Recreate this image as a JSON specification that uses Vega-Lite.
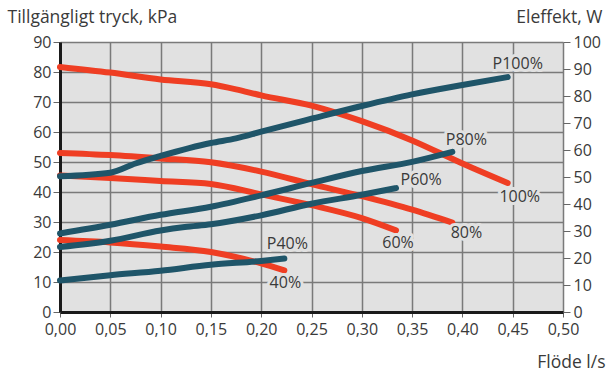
{
  "$schema": "https://vega.github.io/schema/vega-lite/v6.json",
  "width": 503,
  "height": 270,
  "autosize": {"type": "none"},
  "padding": {"left": 60, "top": 42, "right": 45, "bottom": 62},
  "background": "white",
  "config": {
    "view": {"fill": "#e1e1e1", "stroke": null},
    "font": "Open Sans",
    "axis": {"labelFont": "Open Sans", "titleFont": "Open Sans", "labelFontSize": 16, "titleFontSize": 17.5, "titleFontWeight": "normal", "labelColor": "#3a3a3a", "titleColor": "#3a3a3a", "tickColor": "#666666", "tickWidth": 1}
  },
  "datasets": {
    "pressure": [
      {"series": "100%", "flow": 0.0, "kPa": 81.7},
      {"series": "100%", "flow": 0.05, "kPa": 79.8},
      {"series": "100%", "flow": 0.1, "kPa": 77.5},
      {"series": "100%", "flow": 0.15, "kPa": 75.9},
      {"series": "100%", "flow": 0.175, "kPa": 74.2},
      {"series": "100%", "flow": 0.2, "kPa": 72.2},
      {"series": "100%", "flow": 0.25, "kPa": 68.8},
      {"series": "100%", "flow": 0.3, "kPa": 63.6},
      {"series": "100%", "flow": 0.35, "kPa": 57.2},
      {"series": "100%", "flow": 0.4, "kPa": 49.5},
      {"series": "100%", "flow": 0.445, "kPa": 43.0},
      {"series": "80%", "flow": 0.0, "kPa": 53.0},
      {"series": "80%", "flow": 0.05, "kPa": 52.3},
      {"series": "80%", "flow": 0.1, "kPa": 51.2},
      {"series": "80%", "flow": 0.15, "kPa": 49.9},
      {"series": "80%", "flow": 0.2, "kPa": 46.8},
      {"series": "80%", "flow": 0.25, "kPa": 42.6},
      {"series": "80%", "flow": 0.3, "kPa": 38.6},
      {"series": "80%", "flow": 0.35, "kPa": 34.1},
      {"series": "80%", "flow": 0.39, "kPa": 29.8},
      {"series": "60%", "flow": 0.0, "kPa": 45.5},
      {"series": "60%", "flow": 0.05, "kPa": 44.7},
      {"series": "60%", "flow": 0.1, "kPa": 43.7},
      {"series": "60%", "flow": 0.15, "kPa": 42.7},
      {"series": "60%", "flow": 0.2, "kPa": 39.2},
      {"series": "60%", "flow": 0.25, "kPa": 35.6},
      {"series": "60%", "flow": 0.3, "kPa": 31.3},
      {"series": "60%", "flow": 0.334, "kPa": 27.2},
      {"series": "40%", "flow": 0.0, "kPa": 24.0},
      {"series": "40%", "flow": 0.05, "kPa": 23.2},
      {"series": "40%", "flow": 0.1, "kPa": 21.8},
      {"series": "40%", "flow": 0.15, "kPa": 20.0},
      {"series": "40%", "flow": 0.2, "kPa": 16.2},
      {"series": "40%", "flow": 0.223, "kPa": 13.9}
    ],
    "power": [
      {"series": "P100%", "flow": 0.0, "W": 50.3},
      {"series": "P100%", "flow": 0.05, "W": 51.6},
      {"series": "P100%", "flow": 0.075, "W": 55.0},
      {"series": "P100%", "flow": 0.1, "W": 57.8},
      {"series": "P100%", "flow": 0.15, "W": 62.6},
      {"series": "P100%", "flow": 0.175, "W": 64.3},
      {"series": "P100%", "flow": 0.2, "W": 66.8},
      {"series": "P100%", "flow": 0.25, "W": 71.6},
      {"series": "P100%", "flow": 0.3, "W": 76.3},
      {"series": "P100%", "flow": 0.35, "W": 80.6},
      {"series": "P100%", "flow": 0.4, "W": 84.1},
      {"series": "P100%", "flow": 0.445, "W": 87.0},
      {"series": "P80%", "flow": 0.0, "W": 29.1},
      {"series": "P80%", "flow": 0.05, "W": 32.3},
      {"series": "P80%", "flow": 0.1, "W": 36.0},
      {"series": "P80%", "flow": 0.15, "W": 39.0},
      {"series": "P80%", "flow": 0.2, "W": 43.2},
      {"series": "P80%", "flow": 0.25, "W": 47.8},
      {"series": "P80%", "flow": 0.3, "W": 52.2},
      {"series": "P80%", "flow": 0.35, "W": 55.6},
      {"series": "P80%", "flow": 0.39, "W": 59.3},
      {"series": "P60%", "flow": 0.0, "W": 24.1},
      {"series": "P60%", "flow": 0.05, "W": 26.4},
      {"series": "P60%", "flow": 0.1, "W": 30.2},
      {"series": "P60%", "flow": 0.124, "W": 31.5},
      {"series": "P60%", "flow": 0.15, "W": 32.5},
      {"series": "P60%", "flow": 0.2, "W": 35.8},
      {"series": "P60%", "flow": 0.25, "W": 40.1},
      {"series": "P60%", "flow": 0.3, "W": 43.4},
      {"series": "P60%", "flow": 0.334, "W": 45.9},
      {"series": "P40%", "flow": 0.0, "W": 11.7},
      {"series": "P40%", "flow": 0.05, "W": 13.6},
      {"series": "P40%", "flow": 0.1, "W": 15.3},
      {"series": "P40%", "flow": 0.15, "W": 17.5},
      {"series": "P40%", "flow": 0.2, "W": 18.9},
      {"series": "P40%", "flow": 0.223, "W": 19.8}
    ],
    "labels": [
      {"label": "P100%", "flow": 0.455, "kPa": 82.6},
      {"label": "P80%", "flow": 0.404, "kPa": 57.2},
      {"label": "P60%", "flow": 0.359, "kPa": 43.9},
      {"label": "P40%", "flow": 0.226, "kPa": 22.7},
      {"label": "100%", "flow": 0.457, "kPa": 38.3},
      {"label": "80%", "flow": 0.404, "kPa": 26.2},
      {"label": "60%", "flow": 0.336, "kPa": 23.1},
      {"label": "40%", "flow": 0.224, "kPa": 9.6}
    ]
  },
  "encoding": {
    "x": {
      "field": "flow", "type": "quantitative",
      "scale": {"domain": [0, 0.5], "nice": false, "zero": false},
      "axis": {
        "values": [0, 0.05, 0.1, 0.15, 0.2, 0.25, 0.3, 0.35, 0.4, 0.45, 0.5],
        "labelExpr": "replace(format(datum.value, '.2f'), '.', ',')",
        "grid": true, "gridColor": "#7a7a7a", "gridWidth": 1.5,
        "domainColor": "#1a1a1a", "domainWidth": 3,
        "tickSize": 5, "labelPadding": 4, "labelFlush": false,
        "title": "Flöde l/s", "titleAlign": "right", "titleBaseline": "alphabetic",
        "titleAnchor": null, "titleX": 545, "titleY": 55
      }
    }
  },
  "layer": [
    {
      "data": {"name": "pressure"},
      "mark": {"type": "line", "color": "#ef3e23", "strokeWidth": 6, "strokeCap": "round", "interpolate": "monotone"},
      "encoding": {
        "y": {
          "field": "kPa", "type": "quantitative",
          "scale": {"domain": [0, 90], "nice": false},
          "axis": {
            "orient": "left", "values": [0, 10, 20, 30, 40, 50, 60, 70, 80, 90],
            "grid": true, "gridColor": "#7a7a7a", "gridWidth": 1.5,
            "domainColor": "#1a1a1a", "domainWidth": 3,
            "tickSize": 7, "labelPadding": 2,
            "title": "Tillgängligt tryck, kPa", "titleAngle": 0, "titleAlign": "left",
            "titleBaseline": "alphabetic", "titleAnchor": null, "titleX": -53, "titleY": -20
          }
        },
        "detail": {"field": "series"}
      }
    },
    {
      "data": {"name": "power"},
      "mark": {"type": "line", "color": "#1f5569", "strokeWidth": 6, "strokeCap": "round", "interpolate": "monotone"},
      "encoding": {
        "y": {
          "field": "W", "type": "quantitative",
          "scale": {"domain": [0, 100], "nice": false},
          "axis": {
            "orient": "right", "values": [0, 10, 20, 30, 40, 50, 60, 70, 80, 90, 100],
            "grid": false, "domain": false,
            "tickSize": 7, "labelPadding": 3,
            "title": "Eleffekt, W", "titleAngle": 0, "titleAlign": "right",
            "titleBaseline": "alphabetic", "titleAnchor": null, "titleX": 39, "titleY": -20
          }
        },
        "detail": {"field": "series"}
      }
    },
    {
      "data": {"name": "labels"},
      "mark": {"type": "text", "font": "Open Sans", "fontSize": 16, "stroke": "#e1e1e1", "strokeWidth": 6, "strokeJoin": "round", "fill": "#e1e1e1", "align": "center", "baseline": "middle"},
      "encoding": {
        "y": {"field": "kPa", "type": "quantitative", "scale": {"domain": [0, 90], "nice": false}, "axis": null},
        "text": {"field": "label"}
      }
    },
    {
      "data": {"name": "labels"},
      "mark": {"type": "text", "font": "Open Sans", "fontSize": 16, "color": "#3a3a3a", "align": "center", "baseline": "middle"},
      "encoding": {
        "y": {"field": "kPa", "type": "quantitative", "scale": {"domain": [0, 90], "nice": false}, "axis": null},
        "text": {"field": "label"}
      }
    }
  ],
  "resolve": {"scale": {"y": "independent"}}
}
